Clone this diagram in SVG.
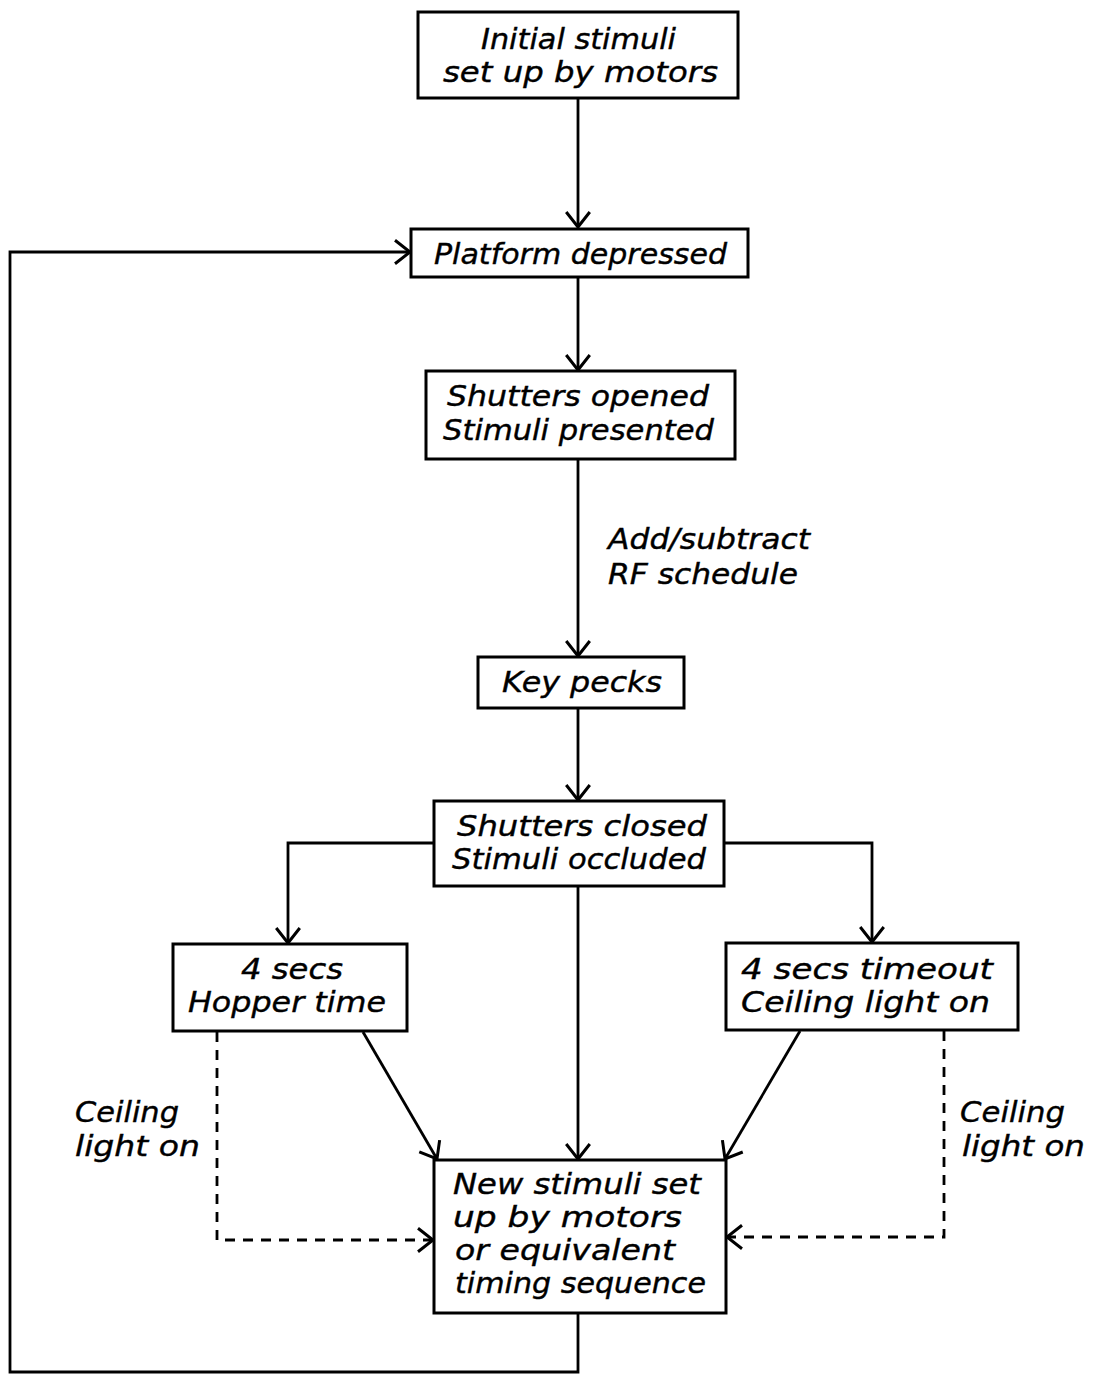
<svg xmlns="http://www.w3.org/2000/svg" width="1093" height="1375" viewBox="0 0 1093 1375">
<style>
.box{fill:#fff;stroke:#000;stroke-width:3}
.t{font-family:"DejaVu Sans","Liberation Sans",sans-serif;font-style:italic;font-size:28px;fill:#000;stroke:#000;stroke-width:0.4}
.c{fill:none;stroke:#000;stroke-width:2.8}
.d{fill:none;stroke:#000;stroke-width:2.8;stroke-dasharray:10 8}
</style>
<defs>
<marker id="ah" markerUnits="userSpaceOnUse" markerWidth="30" markerHeight="30" viewBox="-16 -14 18 28" refX="0" refY="0" orient="auto">
<path d="M-14,-11 L0,0 L-14,11" fill="none" stroke="#000" stroke-width="2.8"/>
</marker>
</defs>
<rect width="1093" height="1375" fill="#fff"/>
<g id="connectors">
<path class="c" d="M578,98 V227" marker-end="url(#ah)"/>
<path class="c" d="M578,277 V370" marker-end="url(#ah)"/>
<path class="c" d="M578,459 V656" marker-end="url(#ah)"/>
<path class="c" d="M578,708 V800" marker-end="url(#ah)"/>
<path class="c" d="M434,843 H288 V943" marker-end="url(#ah)"/>
<path class="c" d="M724,843 H872 V942" marker-end="url(#ah)"/>
<path class="c" d="M578,886 V1159" marker-end="url(#ah)"/>
<path class="c" d="M363,1032 L437,1159" marker-end="url(#ah)"/>
<path class="c" d="M800,1031 L725,1159" marker-end="url(#ah)"/>
<path class="d" d="M217,1032 V1240 H433" marker-end="url(#ah)"/>
<path class="d" d="M944,1031 V1237 H727" marker-end="url(#ah)"/>
<path class="c" d="M578,1313 V1372 H10 V252 H410" marker-end="url(#ah)"/>
<text class="t" x="608" y="549" textLength="202" lengthAdjust="spacingAndGlyphs">Add/subtract</text>
<text class="t" x="608" y="584" textLength="190" lengthAdjust="spacingAndGlyphs">RF schedule</text>
<text class="t" x="75" y="1122" textLength="104" lengthAdjust="spacingAndGlyphs">Ceiling</text>
<text class="t" x="75" y="1156" textLength="125" lengthAdjust="spacingAndGlyphs">light on</text>
<text class="t" x="960" y="1122" textLength="105" lengthAdjust="spacingAndGlyphs">Ceiling</text>
<text class="t" x="962" y="1156" textLength="123" lengthAdjust="spacingAndGlyphs">light on</text>
</g>
<g id="n1">
<rect class="box" x="418" y="12" width="320" height="86"/>
<text class="t" x="481" y="49" textLength="195" lengthAdjust="spacingAndGlyphs">Initial stimuli</text>
<text class="t" x="443" y="82" textLength="275" lengthAdjust="spacingAndGlyphs">set up by motors</text>
</g>
<g id="n2">
<rect class="box" x="411" y="229" width="337" height="48"/>
<text class="t" x="434" y="264" textLength="293" lengthAdjust="spacingAndGlyphs">Platform depressed</text>
</g>
<g id="n3">
<rect class="box" x="426" y="371" width="309" height="88"/>
<text class="t" x="447" y="406" textLength="262" lengthAdjust="spacingAndGlyphs">Shutters opened</text>
<text class="t" x="443" y="440" textLength="271" lengthAdjust="spacingAndGlyphs">Stimuli presented</text>
</g>
<g id="n4">
<rect class="box" x="478" y="657" width="206" height="51"/>
<text class="t" x="502" y="692" textLength="160" lengthAdjust="spacingAndGlyphs">Key pecks</text>
</g>
<g id="n5">
<rect class="box" x="434" y="801" width="290" height="85"/>
<text class="t" x="457" y="836" textLength="250" lengthAdjust="spacingAndGlyphs">Shutters closed</text>
<text class="t" x="452" y="869" textLength="254" lengthAdjust="spacingAndGlyphs">Stimuli occluded</text>
</g>
<g id="n6">
<rect class="box" x="173" y="944" width="234" height="87"/>
<text class="t" x="241" y="979" textLength="102" lengthAdjust="spacingAndGlyphs">4 secs</text>
<text class="t" x="188" y="1012" textLength="198" lengthAdjust="spacingAndGlyphs">Hopper time</text>
</g>
<g id="n7">
<rect class="box" x="726" y="943" width="292" height="87"/>
<text class="t" x="741" y="979" textLength="252" lengthAdjust="spacingAndGlyphs">4 secs timeout</text>
<text class="t" x="741" y="1012" textLength="249" lengthAdjust="spacingAndGlyphs">Ceiling light on</text>
</g>
<g id="n8">
<rect class="box" x="434" y="1160" width="292" height="153"/>
<text class="t" x="453" y="1194" textLength="248" lengthAdjust="spacingAndGlyphs">New stimuli set</text>
<text class="t" x="453" y="1227" textLength="229" lengthAdjust="spacingAndGlyphs">up by motors</text>
<text class="t" x="455" y="1260" textLength="220" lengthAdjust="spacingAndGlyphs">or equivalent</text>
<text class="t" x="455" y="1293" textLength="251" lengthAdjust="spacingAndGlyphs">timing sequence</text>
</g>
</svg>
